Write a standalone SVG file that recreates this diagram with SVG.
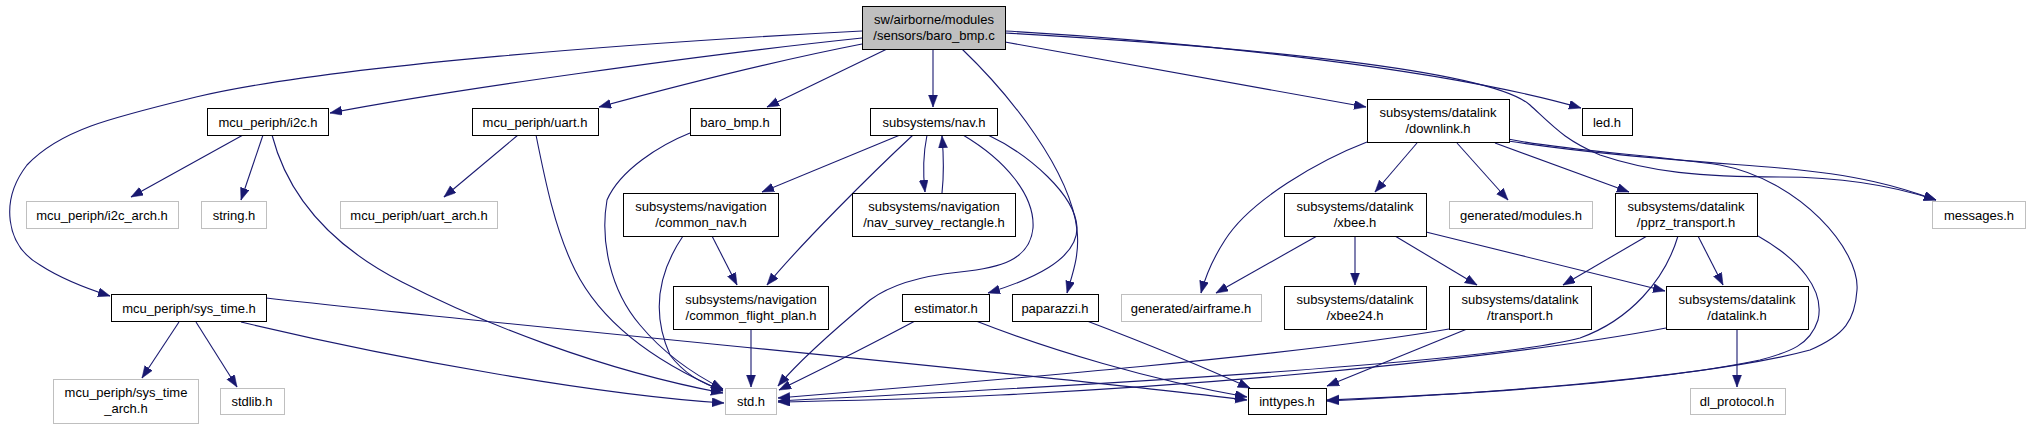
<svg xmlns="http://www.w3.org/2000/svg" width="2028" height="429" viewBox="0 0 2028 429">
<style>
rect{fill:#fff;stroke:#000;stroke-width:1}
.g rect{stroke:#bfbfbf}
.m rect{fill:#bfbfbf}
text{font-family:"Liberation Sans",Arial,sans-serif;font-size:13px;fill:#000;text-anchor:middle}
#edges path{fill:none;stroke:#191970;stroke-width:1.1;marker-end:url(#ah)}
</style>
<defs>
<marker id="ah" markerUnits="userSpaceOnUse" markerWidth="14" markerHeight="11" refX="12" refY="4.5" orient="auto">
<path d="M0,0 L12,4.5 L0,9 z" fill="#191970" stroke="#191970" stroke-width="0.5"/>
</marker>
</defs>
<rect x="0" y="0" width="2028" height="429" style="fill:#fff;stroke:none"/>
<g id="edges">
<path d="M862,38 C700,55 450,90 330,113"/>
<path d="M862,44 C780,60 680,85 599,107"/>
<path d="M862,31 C650,42 330,65 196,97 C110,118 60,130 27,165 C0,200 5,245 40,265 C60,278 85,288 110,296"/>
<path d="M887,49 L767,107"/>
<path d="M933,49 L933,107"/>
<path d="M962,49 C1010,95 1070,170 1077,230 C1080,255 1072,275 1067,293"/>
<path d="M1005,42 L1366,107"/>
<path d="M1005,31 C1200,42 1450,70 1581,108"/>
<path d="M1005,33 C1250,47 1490,70 1530,105 C1555,128 1565,140 1600,155 C1650,172 1700,177 1780,177 C1850,177 1900,188 1936,200"/>
<path d="M900,135 L762,192"/>
<path d="M913,135 C870,175 800,245 767,285"/>
<path d="M927,135 C923,155 923,175 925,192"/>
<path d="M942,193 C944,175 944,160 942,136"/>
<path d="M963,135 C1005,160 1035,195 1033,228 C1030,260 1000,268 960,272 C920,276 890,285 870,300 C840,325 800,360 778,386"/>
<path d="M988,135 C1030,155 1075,195 1077,227 C1078,260 1030,280 988,293"/>
<path d="M712,236 L737,285"/>
<path d="M683,236 C660,270 650,310 670,355 C685,375 705,385 723,390"/>
<path d="M751,329 L751,387"/>
<path d="M915,321 C870,345 820,370 779,390"/>
<path d="M976,321 C1050,350 1150,380 1247,397"/>
<path d="M1087,321 C1150,345 1210,370 1250,388"/>
<path d="M243,135 L131,197"/>
<path d="M263,135 L241,200"/>
<path d="M272,135 C285,185 320,240 402,282 C480,322 600,370 723,393"/>
<path d="M518,135 L444,197"/>
<path d="M536,135 C545,180 555,230 575,270 C600,320 650,360 723,391"/>
<path d="M690,133 C660,145 620,170 607,200 C600,240 610,290 640,325 C665,355 695,375 723,389"/>
<path d="M179,322 L142,378"/>
<path d="M196,322 L237,387"/>
<path d="M241,322 C400,360 600,395 724,403"/>
<path d="M266,298 C550,330 1000,370 1247,400"/>
<path d="M1367,142 C1320,160 1250,200 1225,240 C1212,260 1205,278 1201,293"/>
<path d="M1417,143 L1375,192"/>
<path d="M1457,143 L1508,200"/>
<path d="M1495,143 L1629,192"/>
<path d="M1508,141 C1600,155 1680,160 1780,168 C1860,175 1900,187 1936,200"/>
<path d="M1508,139 C1560,150 1650,155 1720,165 C1800,180 1860,250 1857,290 C1855,320 1845,335 1810,350 C1700,380 1450,395 1327,401"/>
<path d="M1317,236 L1216,293"/>
<path d="M1355,236 L1355,285"/>
<path d="M1395,236 L1477,285"/>
<path d="M1426,232 L1665,291"/>
<path d="M1647,236 L1563,285"/>
<path d="M1698,236 L1723,285"/>
<path d="M1678,236 C1665,280 1630,320 1580,338 C1480,365 1000,390 778,401"/>
<path d="M1758,236 C1800,260 1825,290 1818,320 C1810,345 1790,352 1760,360 C1640,385 1450,395 1327,400"/>
<path d="M1449,329 C1300,355 1000,380 778,398"/>
<path d="M1467,329 L1327,386"/>
<path d="M1666,328 C1550,350 1300,380 1000,395 C900,400 820,401 778,402"/>
<path d="M1737,329 L1737,387"/>
</g>
<g id="n_main" class="m"><rect x="862.5" y="6.5" width="143" height="43"/><text x="934" y="24">sw/airborne/modules</text><text x="934" y="40">/sensors/baro_bmp.c</text></g>
<g id="n_i2c"><rect x="207.5" y="108.5" width="121" height="27"/><text x="268" y="126.5">mcu_periph/i2c.h</text></g>
<g id="n_uart"><rect x="472.5" y="108.5" width="126" height="27"/><text x="535" y="126.5">mcu_periph/uart.h</text></g>
<g id="n_baro"><rect x="690.5" y="108.5" width="90" height="27"/><text x="735" y="126.5">baro_bmp.h</text></g>
<g id="n_nav"><rect x="870.5" y="108.5" width="127" height="27"/><text x="934" y="126.5">subsystems/nav.h</text></g>
<g id="n_downlink"><rect x="1367.5" y="99.5" width="142" height="43"/><text x="1438" y="117">subsystems/datalink</text><text x="1438" y="133">/downlink.h</text></g>
<g id="n_led"><rect x="1582.5" y="108.5" width="50" height="27"/><text x="1607" y="126.5">led.h</text></g>
<g id="n_i2carch" class="g"><rect x="26.5" y="201.5" width="152" height="27"/><text x="102" y="219.5">mcu_periph/i2c_arch.h</text></g>
<g id="n_string" class="g"><rect x="201.5" y="201.5" width="65" height="27"/><text x="234" y="219.5">string.h</text></g>
<g id="n_uartarch" class="g"><rect x="340.5" y="201.5" width="157" height="27"/><text x="419" y="219.5">mcu_periph/uart_arch.h</text></g>
<g id="n_commonnav"><rect x="623.5" y="193.5" width="155" height="43"/><text x="701" y="211">subsystems/navigation</text><text x="701" y="227">/common_nav.h</text></g>
<g id="n_navsurvey"><rect x="852.5" y="193.5" width="163" height="43"/><text x="934" y="211">subsystems/navigation</text><text x="934" y="227">/nav_survey_rectangle.h</text></g>
<g id="n_xbee"><rect x="1284.5" y="193.5" width="142" height="43"/><text x="1355" y="211">subsystems/datalink</text><text x="1355" y="227">/xbee.h</text></g>
<g id="n_modules" class="g"><rect x="1449.5" y="201.5" width="143" height="27"/><text x="1521" y="219.5">generated/modules.h</text></g>
<g id="n_pprz"><rect x="1615.5" y="193.5" width="142" height="43"/><text x="1686" y="211">subsystems/datalink</text><text x="1686" y="227">/pprz_transport.h</text></g>
<g id="n_messages" class="g"><rect x="1932.5" y="201.5" width="93" height="27"/><text x="1979" y="219.5">messages.h</text></g>
<g id="n_systime"><rect x="111.5" y="294.5" width="155" height="27"/><text x="189" y="312.5">mcu_periph/sys_time.h</text></g>
<g id="n_cfp"><rect x="673.5" y="286.5" width="155" height="43"/><text x="751" y="304">subsystems/navigation</text><text x="751" y="320">/common_flight_plan.h</text></g>
<g id="n_estimator"><rect x="902.5" y="294.5" width="87" height="27"/><text x="946" y="312.5">estimator.h</text></g>
<g id="n_paparazzi"><rect x="1012.5" y="294.5" width="86" height="27"/><text x="1055" y="312.5">paparazzi.h</text></g>
<g id="n_airframe" class="g"><rect x="1121.5" y="294.5" width="140" height="27"/><text x="1191" y="312.5">generated/airframe.h</text></g>
<g id="n_xbee24"><rect x="1284.5" y="286.5" width="142" height="43"/><text x="1355" y="304">subsystems/datalink</text><text x="1355" y="320">/xbee24.h</text></g>
<g id="n_transport"><rect x="1449.5" y="286.5" width="142" height="43"/><text x="1520" y="304">subsystems/datalink</text><text x="1520" y="320">/transport.h</text></g>
<g id="n_datalink"><rect x="1666.5" y="286.5" width="142" height="43"/><text x="1737" y="304">subsystems/datalink</text><text x="1737" y="320">/datalink.h</text></g>
<g id="n_systimearch" class="g"><rect x="53.5" y="379.5" width="145" height="44"/><text x="126" y="397">mcu_periph/sys_time</text><text x="126" y="413">_arch.h</text></g>
<g id="n_stdlib" class="g"><rect x="220.5" y="388.5" width="64" height="26"/><text x="252" y="406">stdlib.h</text></g>
<g id="n_std" class="g"><rect x="725.5" y="388.5" width="51" height="26"/><text x="751" y="406">std.h</text></g>
<g id="n_inttypes"><rect x="1248.5" y="388.5" width="78" height="26"/><text x="1287" y="406">inttypes.h</text></g>
<g id="n_dlprotocol" class="g"><rect x="1690.5" y="388.5" width="95" height="26"/><text x="1737" y="406">dl_protocol.h</text></g>
</svg>
